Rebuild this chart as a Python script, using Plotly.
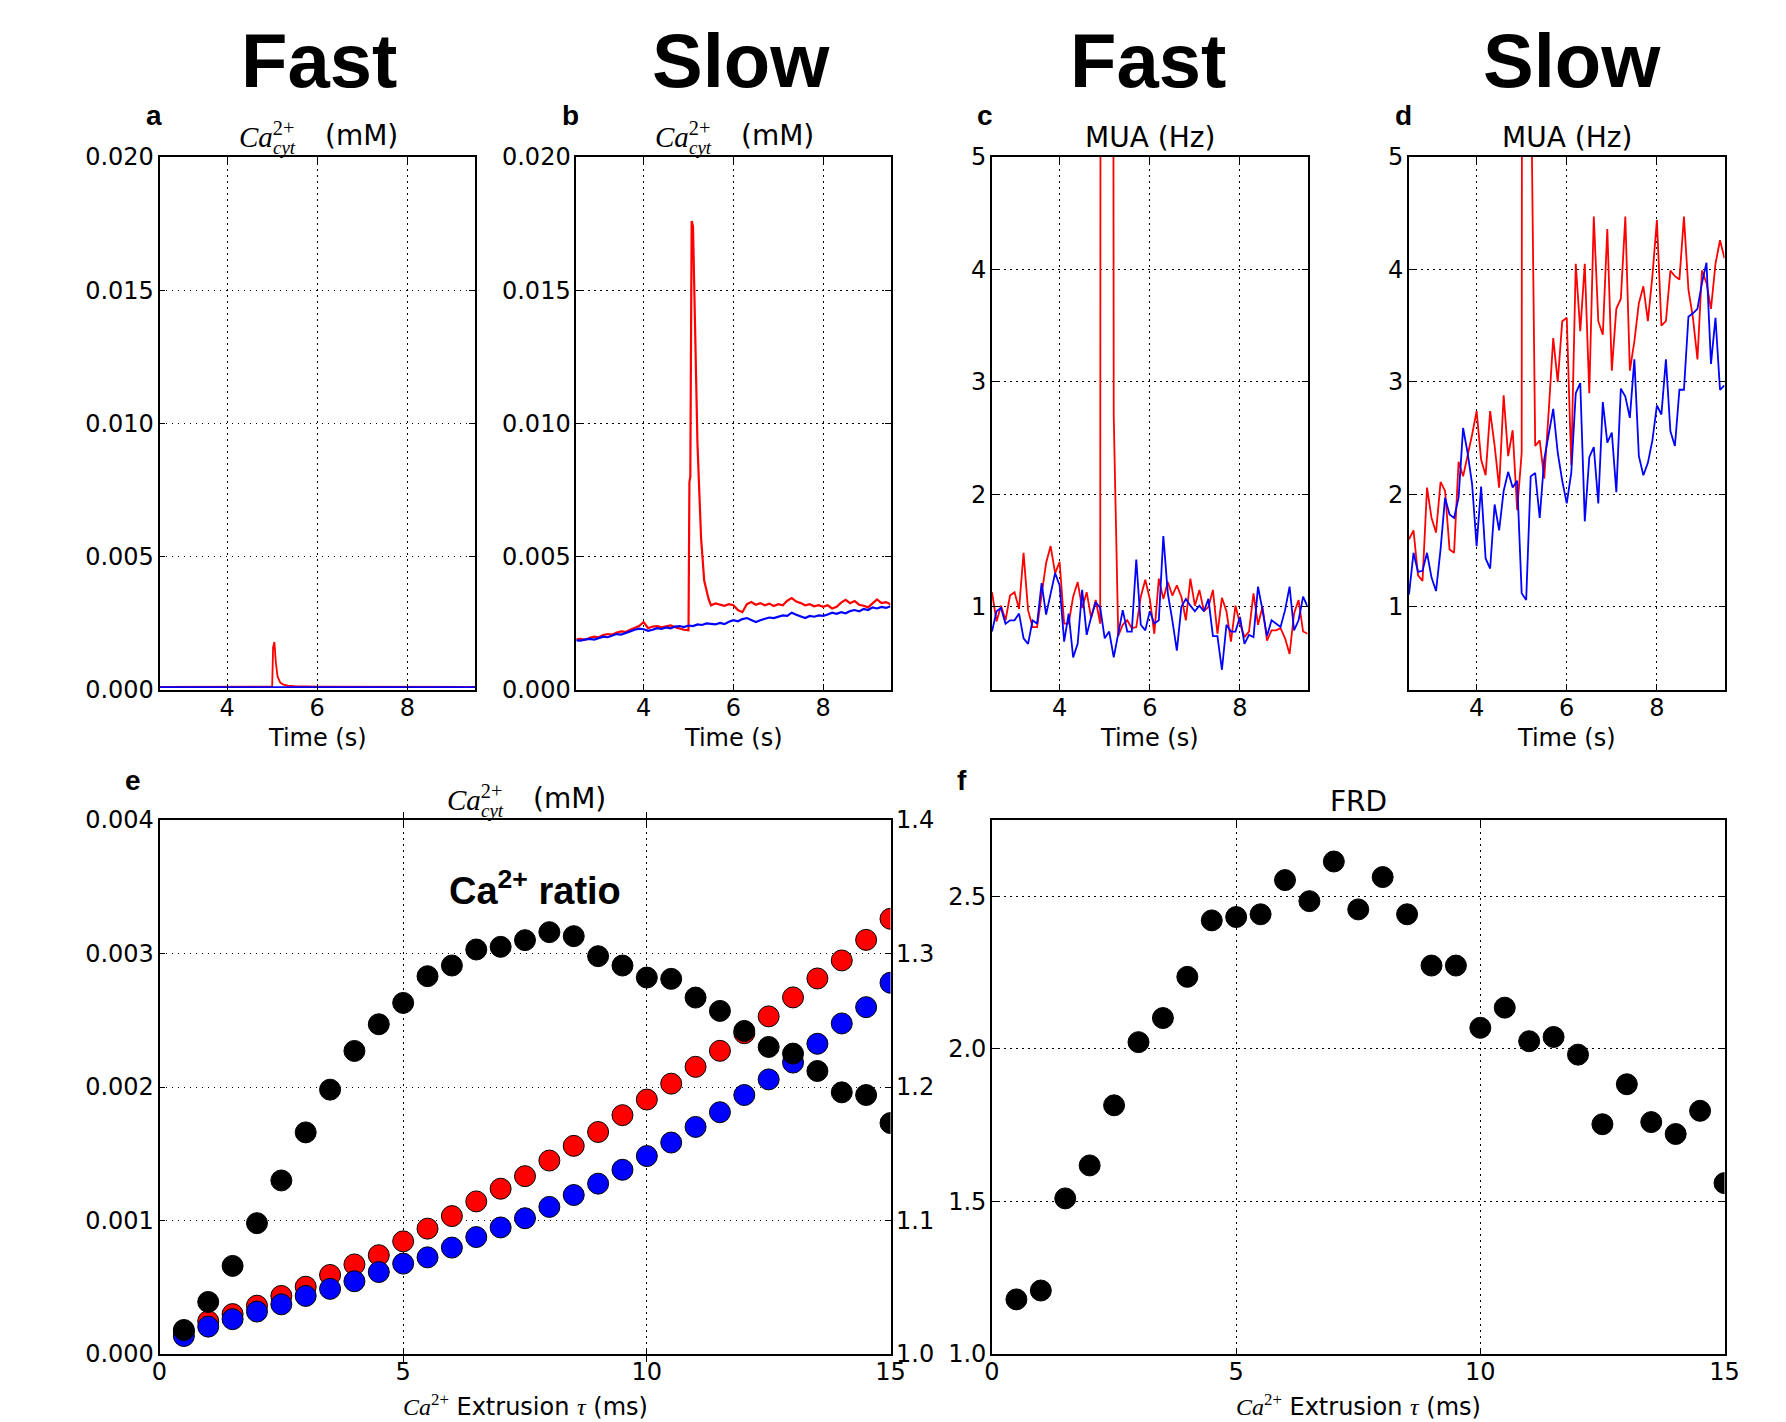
import plotly.graph_objects as go

W, H = 1786, 1422

# ---------------- data ----------------
# panel a (fast, Ca cyt)
time_a_red = [2.5, 3.0, 3.5, 4.0, 4.5, 4.9, 5.0, 5.02, 5.05, 5.08, 5.12, 5.18, 5.25, 5.35, 5.5, 6.0, 6.5, 7.0, 7.5, 8.0, 8.5, 9.0, 9.5]
ca_a_red = [0.00012, 0.00012, 0.00012, 0.00012, 0.00012, 0.00012, 0.00013, 0.00160, 0.00180, 0.00105, 0.00050, 0.00028,
            0.00020, 0.00016, 0.00014, 0.00013, 0.00013, 0.00012, 0.00012, 0.00012, 0.00012, 0.00012, 0.00012]
time_a_blue = [2.5, 3.5, 4.5, 5.5, 6.5, 7.5, 8.5, 9.5]
ca_a_blue = [0.00011, 0.00011, 0.00011, 0.00011, 0.00011, 0.00011, 0.00011, 0.00011]

# common time grid (s)
time_grid = [2.5, 2.6, 2.7, 2.8, 2.9, 3.0, 3.1, 3.2, 3.3, 3.4, 3.5, 3.6, 3.7, 3.8, 3.9, 4.0, 4.1, 4.2, 4.3, 4.4,
             4.5, 4.6, 4.7, 4.8, 4.9, 5.0, 5.1, 5.2, 5.3, 5.4, 5.5, 5.6, 5.7, 5.8, 5.9, 6.0, 6.1, 6.2, 6.3, 6.4,
             6.5, 6.6, 6.7, 6.8, 6.9, 7.0, 7.1, 7.2, 7.3, 7.4, 7.5, 7.6, 7.7, 7.8, 7.9, 8.0, 8.1, 8.2, 8.3, 8.4,
             8.5, 8.6, 8.7, 8.8, 8.9, 9.0, 9.1, 9.2, 9.3, 9.4, 9.5]

# panel b (slow, Ca cyt)
ca_b_blue = [0.00186, 0.00185, 0.00190, 0.00192, 0.00189, 0.00196, 0.00200, 0.00198, 0.00204, 0.00210,
             0.00208, 0.00215, 0.00220, 0.00226, 0.00230, 0.00228, 0.00222, 0.00226, 0.00232, 0.00229,
             0.00235, 0.00231, 0.00238, 0.00240, 0.00236, 0.00242, 0.00240, 0.00246, 0.00244, 0.00250,
             0.00248, 0.00246, 0.00252, 0.00247, 0.00256, 0.00262, 0.00258, 0.00266, 0.00270, 0.00263,
             0.00255, 0.00262, 0.00268, 0.00272, 0.00270, 0.00276, 0.00280, 0.00278, 0.00290, 0.00282,
             0.00276, 0.00270, 0.00278, 0.00275, 0.00280, 0.00278, 0.00283, 0.00290, 0.00286, 0.00292,
             0.00288, 0.00296, 0.00300, 0.00295, 0.00304, 0.00300, 0.00310, 0.00306, 0.00312, 0.00308, 0.00314]
time_b_red = [2.5, 2.6, 2.7, 2.8, 2.9, 3.0, 3.1, 3.2, 3.3, 3.4, 3.5, 3.6, 3.7, 3.8, 3.9, 4.0, 4.1, 4.2, 4.3, 4.4,
              4.5, 4.6, 4.7, 4.8, 4.9, 5.0, 5.02, 5.04, 5.07, 5.10, 5.14, 5.20, 5.28, 5.35, 5.45,
              5.5, 5.6, 5.7, 5.8, 5.9, 6.0, 6.1, 6.2, 6.3, 6.4, 6.5, 6.6, 6.7, 6.8, 6.9, 7.0, 7.1, 7.2, 7.3, 7.4,
              7.5, 7.6, 7.7, 7.8, 7.9, 8.0, 8.1, 8.2, 8.3, 8.4, 8.5, 8.6, 8.7, 8.8, 8.9, 9.0, 9.1, 9.2, 9.3, 9.4, 9.5]
ca_b_red = [0.00190, 0.00192, 0.00188, 0.00196, 0.00200, 0.00198, 0.00206, 0.00210, 0.00208, 0.00216,
            0.00220, 0.00218, 0.00226, 0.00232, 0.00240, 0.00255, 0.00232, 0.00238, 0.00240, 0.00235,
            0.00238, 0.00242, 0.00236, 0.00230, 0.00226, 0.00224,
            0.00780, 0.00800, 0.01760, 0.01740, 0.01350, 0.00920, 0.00570, 0.00410, 0.00340,
            0.00318, 0.00325, 0.00320, 0.00316, 0.00322, 0.00318, 0.00300, 0.00292, 0.00322, 0.00330,
            0.00320, 0.00326, 0.00318, 0.00324, 0.00315, 0.00322, 0.00318, 0.00335, 0.00345, 0.00332,
            0.00326, 0.00318, 0.00322, 0.00314, 0.00318, 0.00312, 0.00318, 0.00306, 0.00312, 0.00328,
            0.00338, 0.00326, 0.00334, 0.00320, 0.00316, 0.00310, 0.00325, 0.00340, 0.00326, 0.00330, 0.00322]

# panel c (fast, MUA)
mua_c_red = [1.13, 0.87, 1.01, 0.88, 1.10, 1.13, 0.98, 1.48, 0.97, 0.82,
             0.82, 1.10, 1.39, 1.54, 1.30, 1.40, 0.85, 0.85, 1.09, 1.22,
             0.99, 1.13, 0.90, 1.06, 0.85, 80.0, 80.0, 2.70, 0.74, 0.84,
             0.88, 0.81, 0.82, 1.09, 1.24, 1.07, 0.76, 1.25, 1.07, 1.22,
             1.10, 1.19, 1.09, 0.88, 1.25, 1.01, 1.15, 0.96, 1.00, 1.15,
             0.76, 1.08, 0.96, 0.69, 1.01, 0.85, 0.73, 0.78, 1.12, 0.84,
             1.00, 0.70, 0.79, 0.79, 0.81, 0.72, 0.58, 0.94, 1.06, 0.78, 0.76]
mua_c_blue = [0.78, 0.96, 0.99, 0.85, 0.88, 0.88, 0.94, 0.72, 0.67, 0.88,
              0.85, 1.21, 0.93, 1.12, 1.30, 1.19, 0.69, 0.94, 0.55, 0.67,
              1.15, 0.75, 0.91, 1.04, 0.99, 0.72, 0.78, 0.55, 0.76, 0.97,
              0.78, 0.78, 1.42, 0.84, 0.79, 0.96, 0.85, 0.88, 1.63, 1.12,
              0.88, 0.61, 1.00, 1.07, 1.01, 0.96, 1.01, 0.96, 1.07, 0.74,
              0.74, 0.44, 0.84, 0.78, 0.78, 0.91, 0.67, 0.75, 0.73, 1.18,
              0.97, 0.74, 0.88, 0.85, 0.82, 0.97, 1.18, 0.79, 0.88, 1.09, 1.00]

# panel d (slow, MUA)
mua_d_red = [1.60, 1.68, 1.28, 1.23, 2.06, 1.79, 1.66, 2.11, 2.03, 1.51,
             1.48, 2.29, 2.16, 2.34, 2.53, 2.74, 2.31, 2.17, 2.74, 2.43,
             2.06, 2.88, 2.34, 2.57, 1.86, 2.37, 60.0, 6.00, 2.43, 2.48,
             2.14, 2.74, 3.39, 3.00, 3.54, 3.57, 2.26, 4.05, 3.45, 4.05,
             2.90, 4.47, 3.54, 3.42, 4.36, 3.10, 3.65, 3.74, 4.47, 3.10,
             3.36, 3.70, 3.85, 3.54, 3.94, 4.44, 3.50, 3.54, 3.99, 3.94,
             3.91, 4.47, 3.82, 3.57, 3.20, 3.99, 3.88, 3.65, 4.05, 4.26, 4.10]
mua_d_blue = [1.11, 1.48, 1.31, 1.32, 1.48, 1.26, 1.14, 1.51, 1.97, 1.82,
              1.79, 1.97, 2.59, 2.37, 2.09, 1.54, 2.07, 1.43, 1.34, 1.91,
              1.68, 2.03, 2.20, 2.06, 2.12, 1.12, 1.06, 2.16, 2.19, 1.79,
              2.31, 2.54, 2.76, 2.37, 2.12, 1.92, 2.19, 2.90, 2.99, 1.76,
              2.33, 2.42, 1.92, 2.82, 2.46, 2.55, 2.02, 2.94, 2.87, 2.68,
              3.20, 2.34, 2.17, 2.28, 2.48, 2.79, 2.71, 3.20, 2.56, 2.43,
              2.93, 2.93, 3.58, 3.61, 3.65, 3.88, 4.06, 3.16, 3.57, 2.93, 2.97]

# panels e, f (Ca extrusion tau, ms)
tau = [0.5, 1.0, 1.5, 2.0, 2.5, 3.0, 3.5, 4.0, 4.5, 5.0, 5.5, 6.0, 6.5, 7.0, 7.5,
       8.0, 8.5, 9.0, 9.5, 10.0, 10.5, 11.0, 11.5, 12.0, 12.5, 13.0, 13.5, 14.0, 14.5, 15.0]
ca_slow = [0.000167, 0.000246, 0.000299, 0.000362, 0.000435, 0.000504, 0.000592, 0.000671, 0.000740, 0.000844,
           0.000939, 0.001033, 0.001143, 0.001238, 0.001332, 0.001449, 0.001559, 0.001663, 0.001789, 0.001906,
           0.002025, 0.002151, 0.002271, 0.002403, 0.002529, 0.002671, 0.002813, 0.002948, 0.003102, 0.003260]
ca_fast = [0.000135, 0.000205, 0.000261, 0.000318, 0.000372, 0.000435, 0.000488, 0.000545, 0.000614, 0.000677,
           0.000724, 0.000797, 0.000876, 0.000948, 0.001017, 0.001102, 0.001191, 0.001276, 0.001380, 0.001483,
           0.001584, 0.001701, 0.001811, 0.001940, 0.002057, 0.002183, 0.002324, 0.002476, 0.002598, 0.002781]
ca_ratio = [1.018, 1.039, 1.066, 1.098, 1.130, 1.166, 1.198, 1.227, 1.247, 1.263,
            1.283, 1.291, 1.303, 1.305, 1.310, 1.316, 1.313, 1.298, 1.291, 1.282,
            1.281, 1.267, 1.257, 1.242, 1.230, 1.225, 1.212, 1.196, 1.194, 1.173]
frd = [1.179, 1.208, 1.510, 1.618, 1.815, 2.022, 2.101, 2.236, 2.421, 2.432,
       2.441, 2.553, 2.484, 2.614, 2.457, 2.563, 2.441, 2.273, 2.273, 2.069,
       2.135, 2.025, 2.039, 1.981, 1.753, 1.884, 1.760, 1.721, 1.797, 1.560]

time_ticks = [4, 6, 8]
ca_ticks_ab = [0.000, 0.005, 0.010, 0.015, 0.020]
mua_ticks = [1, 2, 3, 4, 5]
tau_ticks = [0, 5, 10, 15]
ca_ticks_e = [0.000, 0.001, 0.002, 0.003, 0.004]
ratio_ticks = [1.0, 1.1, 1.2, 1.3, 1.4]
frd_ticks = [1.0, 1.5, 2.0, 2.5]

# ---------------- layout helpers ----------------
MPL = "DejaVu Sans, sans-serif"
ARIAL = "Liberation Sans, Arial, sans-serif"
SERIF = "Liberation Serif, serif"
RED, BLUE = "#ff0000", "#0000ff"

boxes = {  # pixel boxes: x0, x1, y0(top), y1(bottom)
    "a": (159.5, 475.0, 157, 690),
    "b": (576.3, 890.5, 157, 690),
    "c": (992.0, 1307.6, 157, 690),
    "d": (1409.0, 1724.5, 157, 690),
    "e": (159.5, 890.5, 820, 1354),
    "f": (992.0, 1724.5, 820, 1354),
}


def xdom(k):
    b = boxes[k]
    return [b[0] / W, b[1] / W]


def ydom(k):
    b = boxes[k]
    return [1 - b[3] / H, 1 - b[2] / H]


def axis_style(**kw):
    d = dict(showline=True, linecolor="black", linewidth=1.6, mirror="allticks",
             ticks="inside", ticklen=6, tickwidth=1, tickcolor="black",
             showgrid=True, gridcolor="black", gridwidth=1, griddash="1.5px,4.5px",
             zeroline=False, tickfont=dict(family=MPL, size=24, color="black"),
             automargin=False)
    d.update(kw)
    return d


XS = dict(ticklabelstandoff=-5)   # x tick labels closer to the axis
YS = dict(ticklabelstandoff=-1)

fig = go.Figure()

line = lambda c, w=1.8: dict(color=c, width=w)
fig.add_trace(go.Scatter(x=time_a_red, y=ca_a_red, mode="lines", line=line(RED), xaxis="x", yaxis="y"))
fig.add_trace(go.Scatter(x=time_a_blue, y=ca_a_blue, mode="lines", line=line(BLUE), xaxis="x", yaxis="y"))
fig.add_trace(go.Scatter(x=time_b_red, y=ca_b_red, mode="lines", line=line(RED, 2.2), xaxis="x2", yaxis="y2"))
fig.add_trace(go.Scatter(x=time_grid, y=ca_b_blue, mode="lines", line=line(BLUE, 2.2), xaxis="x2", yaxis="y2"))
fig.add_trace(go.Scatter(x=time_grid, y=mua_c_red, mode="lines", line=line(RED), xaxis="x3", yaxis="y3"))
fig.add_trace(go.Scatter(x=time_grid, y=mua_c_blue, mode="lines", line=line(BLUE), xaxis="x3", yaxis="y3"))
fig.add_trace(go.Scatter(x=time_grid, y=mua_d_red, mode="lines", line=line(RED), xaxis="x4", yaxis="y4"))
fig.add_trace(go.Scatter(x=time_grid, y=mua_d_blue, mode="lines", line=line(BLUE), xaxis="x4", yaxis="y4"))

mk = lambda c: dict(color=c, size=21, line=dict(color="black", width=1))
fig.add_trace(go.Scatter(x=tau, y=ca_slow, mode="markers", marker=mk(RED), xaxis="x5", yaxis="y5"))
fig.add_trace(go.Scatter(x=tau, y=ca_fast, mode="markers", marker=mk(BLUE), xaxis="x5", yaxis="y5"))
fig.add_trace(go.Scatter(x=tau, y=ca_ratio, mode="markers", marker=mk("black"), xaxis="x5", yaxis="y7"))
fig.add_trace(go.Scatter(x=tau, y=frd, mode="markers", marker=mk("black"), xaxis="x6", yaxis="y6"))

tx = dict(range=[2.5, 9.5], tickvals=time_ticks, **XS)
layout = dict(
    width=W, height=H, autosize=False, showlegend=False,
    paper_bgcolor="white", plot_bgcolor="white",
    margin=dict(l=0, r=0, t=0, b=0, pad=0, autoexpand=False),
    xaxis=axis_style(domain=xdom("a"), anchor="y", **tx),
    yaxis=axis_style(domain=ydom("a"), anchor="x", range=[0, 0.020], tickvals=ca_ticks_ab, tickformat=".3f", **YS),
    xaxis2=axis_style(domain=xdom("b"), anchor="y2", **tx),
    yaxis2=axis_style(domain=ydom("b"), anchor="x2", range=[0, 0.020], tickvals=ca_ticks_ab, tickformat=".3f", **YS),
    xaxis3=axis_style(domain=xdom("c"), anchor="y3", **tx),
    yaxis3=axis_style(domain=ydom("c"), anchor="x3", range=[0.26, 5], tickvals=mua_ticks, **YS),
    xaxis4=axis_style(domain=xdom("d"), anchor="y4", **tx),
    yaxis4=axis_style(domain=ydom("d"), anchor="x4", range=[0.26, 5], tickvals=mua_ticks, **YS),
    xaxis5=axis_style(domain=xdom("e"), anchor="y5", range=[0, 15], tickvals=tau_ticks, **XS),
    yaxis5=axis_style(domain=ydom("e"), anchor="x5", range=[0, 0.004], tickvals=ca_ticks_e,
                      tickformat=".3f", mirror=False, **YS),
    yaxis7=axis_style(overlaying="y5", anchor="x5", side="right", range=[1.0, 1.4], tickvals=ratio_ticks,
                      tickformat=".1f", showgrid=False, mirror=False, **YS),
    xaxis6=axis_style(domain=xdom("f"), anchor="y6", range=[0, 15], tickvals=tau_ticks, **XS),
    yaxis6=axis_style(domain=ydom("f"), anchor="x6", range=[1.0, 2.75], tickvals=frd_ticks, tickformat=".1f", **YS),
)
fig.update_layout(**layout)

anns = []


def ann(text, x, y, size, family=MPL, xanchor="center", yanchor="middle"):
    anns.append(dict(text=text, x=x / W, y=1 - y / H, xref="paper", yref="paper",
                     xanchor=xanchor, yanchor=yanchor, showarrow=False,
                     font=dict(family=family, size=size, color="black")))


def cx(k):
    b = boxes[k]
    return (b[0] + b[1]) / 2


def ca_title(xc, yc):
    # Ca with stacked 2+ (superscript) and cyt (subscript), then (mM)
    ann("<i>Ca</i><sup>2+</sup>", xc - 80, yc, 29, family=SERIF, xanchor="left")
    ann("<i>cyt</i>", xc - 46, yc + 13, 19, family=SERIF, xanchor="left")
    ann("(mM)", xc + 6, yc, 28, xanchor="left")


tau_label = ("<span style=\"font-family:'Liberation Serif'\"><i>Ca</i><sup>2+</sup></span>"
             " Extrusion <span style=\"font-family:'Liberation Serif'\"><i>τ</i></span> (ms)")

# headers
for txt, x in [("Fast", 319), ("Slow", 741), ("Fast", 1148), ("Slow", 1572)]:
    ann("<b>" + txt + "</b>", x, 61, 76, family=ARIAL)

# panel letters
for txt, x, y in [("a", 154, 115), ("b", 570, 115), ("c", 985, 115), ("d", 1403, 115), ("e", 133, 780), ("f", 962, 780)]:
    ann("<b>" + txt + "</b>", x, y, 28, family=ARIAL)

# titles
ca_title(cx("a"), 135)
ca_title(cx("b"), 135)
ann("MUA (Hz)", cx("c"), 137, 28)
ann("MUA (Hz)", cx("d"), 137, 28)
ca_title(cx("e"), 798)
ann("FRD", cx("f"), 801, 28)

# axis titles
for k in "abcd":
    ann("Time (s)", cx(k), 738, 24)
ann(tau_label, cx("e"), 1405, 24)
ann(tau_label, cx("f"), 1405, 24)

# in-plot label
ann("<b>Ca<sup>2+</sup> ratio</b>", 535, 888, 38, family=ARIAL)

fig.update_layout(annotations=anns)
fig.write_html("out.html", config={"displayModeBar": False},
               post_script="document.body.style.margin='0px';document.body.style.overflow='hidden';")
